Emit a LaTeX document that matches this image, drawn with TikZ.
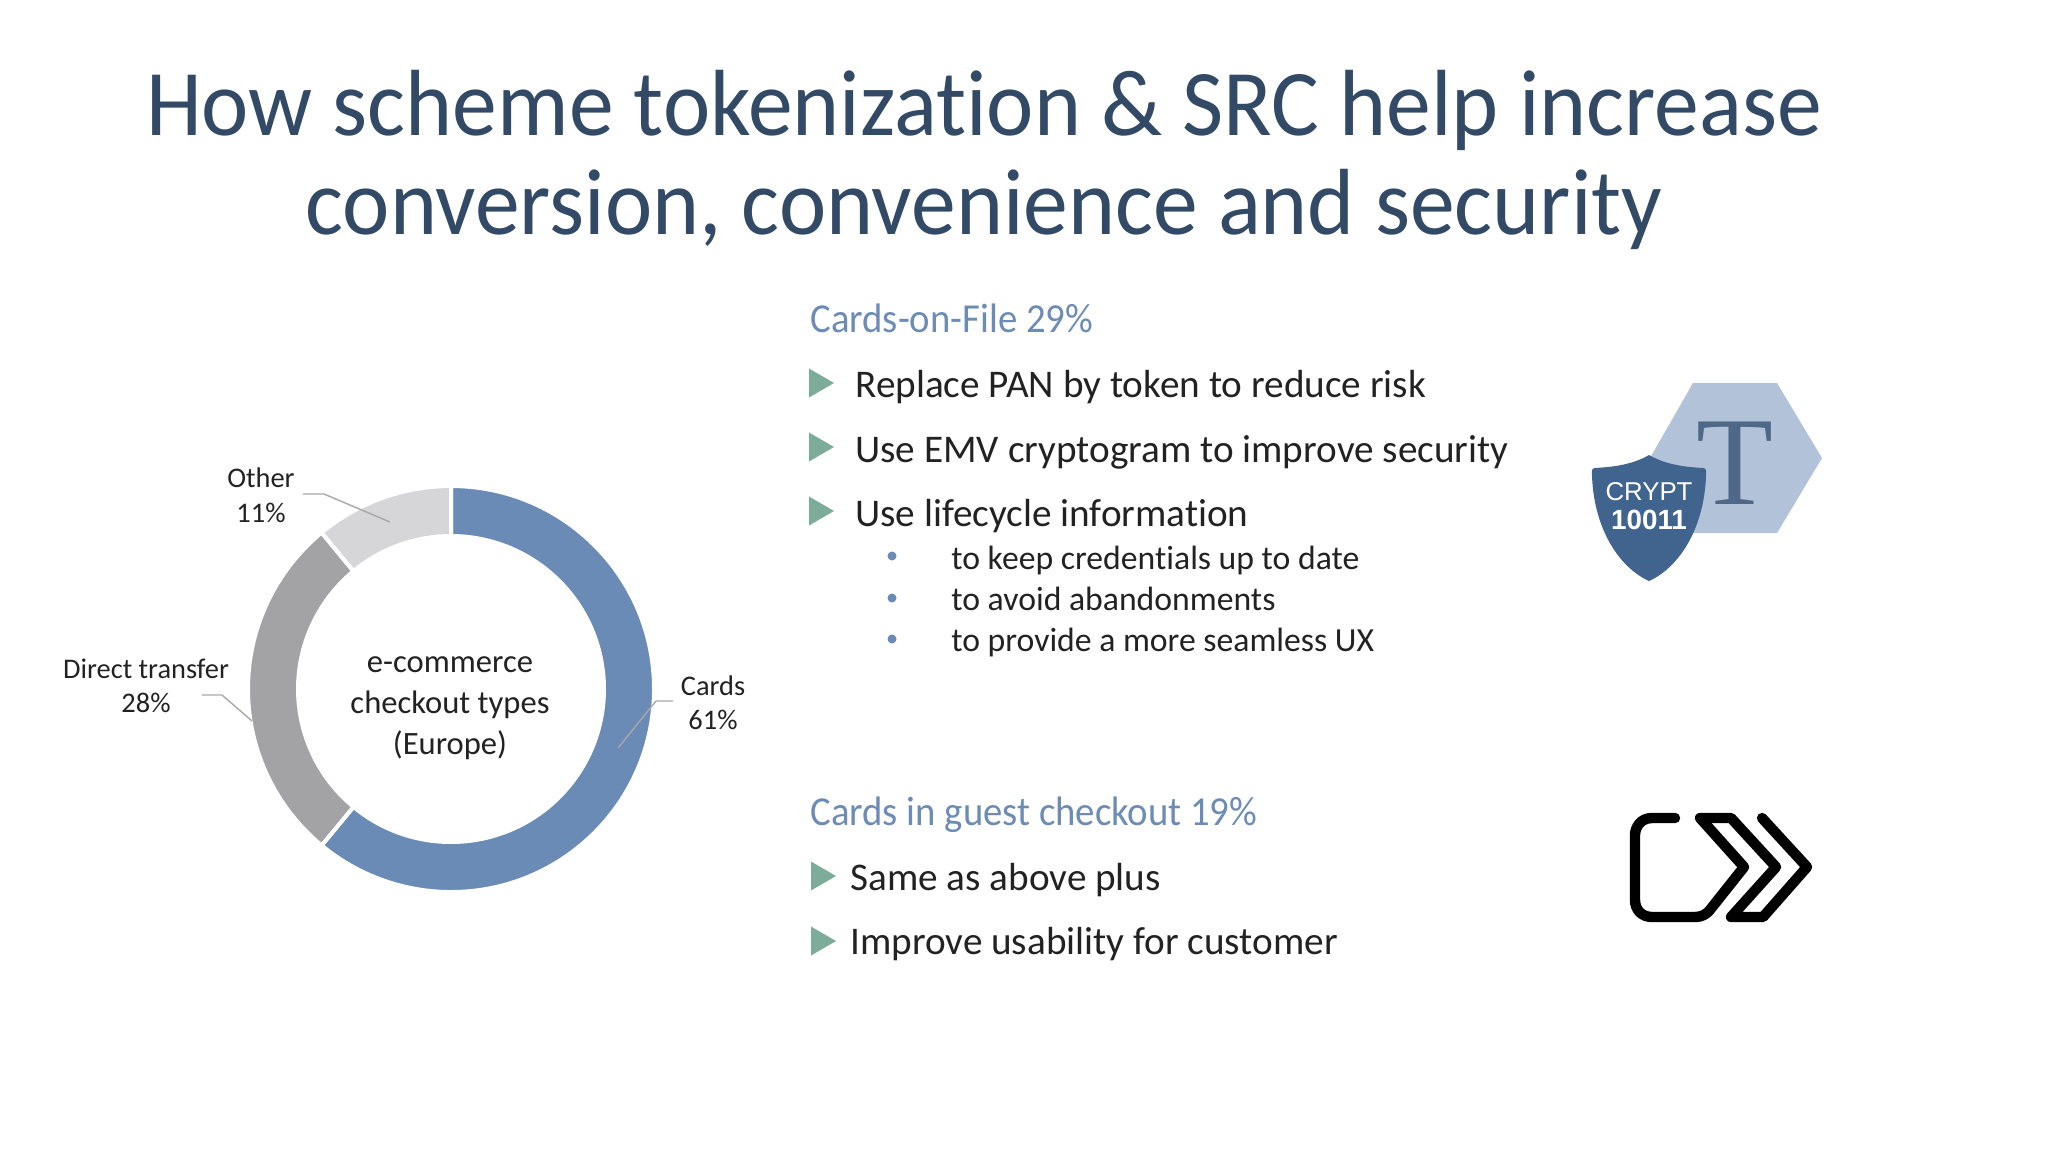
\documentclass[tikz,border=0pt]{standalone}
\usepackage{fontspec}
\setmainfont{Carlito}[Ligatures=NoCommon]
\newfontfamily\titlef{Carlito}[Ligatures=NoCommon,FakeStretch=0.953]
\newfontfamily\headf{Carlito}[Ligatures=NoCommon,FakeStretch=0.94]
\newfontfamily\arialf{Liberation Sans}
\newfontfamily\timesf{Liberation Serif}
\usetikzlibrary{calc}
\definecolor{blueseg}{HTML}{6A8BB6}
\definecolor{grayseg}{HTML}{A3A3A5}
\definecolor{lightseg}{HTML}{D6D6D9}
\definecolor{titlecol}{HTML}{324A66}
\definecolor{headcol}{HTML}{6C8CB5}
\definecolor{tricol}{HTML}{7EAC9B}
\definecolor{textcol}{HTML}{222222}
\definecolor{leader}{HTML}{A8A8A8}
\definecolor{hexcol}{HTML}{B2C3D9}
\definecolor{shieldcol}{HTML}{41648F}
\definecolor{tcol}{HTML}{4F6887}
\tikzset{
  x=0.5pt,y=-0.5pt,
  titletext/.style={anchor=base,inner sep=0,font=\titlef\fontsize{47}{47}\selectfont,text=titlecol},
  headtext/.style={anchor=base west,inner sep=0,font=\headf\fontsize{20.6}{20.6}\selectfont,text=headcol},
  bodytext/.style={anchor=base west,inner sep=0,font=\fontsize{19.6}{19.6}\selectfont,text=textcol},
  subtext/.style={anchor=base west,inner sep=0,font=\fontsize{16.85}{16.85}\selectfont,text=textcol},
  charttext/.style={anchor=base,inner sep=0,font=\fontsize{14.2}{14.2}\selectfont,text=textcol},
  centertext/.style={anchor=base,inner sep=0,font=\fontsize{16.3}{16.3}\selectfont,text=textcol},
  leaderline/.style={draw=leader,line width=0.7pt},
  segsep/.style={draw=white,line width=2pt},
  bulletdot/.style={circle,fill=blueseg,inner sep=0,minimum size=4.5pt},
  iconline/.style={draw=black,line width=5.2pt,line cap=round,line join=round},
}
\newcommand{\tribullet}[2]{\fill[tricol] (#1,#2-14.5) -- (#1+25,#2) -- (#1,#2+14.5) -- cycle;}
\newcommand{\ringseg}[3]{\fill[#1,segsep] (451,689) ++(#2:203) arc[start angle=#2,end angle=#3,radius=203] -- ($(451,689)+(#3:153)$) arc[start angle=#3,end angle=#2,radius=153] -- cycle;}
\begin{document}
\begin{tikzpicture}
\useasboundingbox (0,0) rectangle (2048,1152);
\fill[white] (0,0) rectangle (2048,1152);
% title
\node[titletext] (t1) at (984,135) {How scheme tokenization \& SRC help increase};
\node[titletext] (t2) at (984,234) {conversion, convenience and security};
% donut
\ringseg{blueseg}{-90}{129.6}
\ringseg{grayseg}{129.6}{230.4}
\ringseg{lightseg}{230.4}{270}
\node[centertext] (c1) at (450,672) {e-commerce};
\node[centertext] (c2) at (450,713) {checkout types};
\node[centertext] (c3) at (450,754) {(Europe)};
\node[charttext] (other) at (261,487) {Other};
\node[charttext] (otherp) at (261,522) {11\%};
\node[charttext] (direct) at (146,678) {Direct transfer};
\node[charttext] (directp) at (146,712) {28\%};
\node[charttext] (cards) at (713,695) {Cards};
\node[charttext] (cardsp) at (713,729) {61\%};
\coordinate (oa) at (303,494); \coordinate (ob) at (324,494); \coordinate (oc) at (390,522);
\coordinate (da) at (202,695); \coordinate (db) at (222,695); \coordinate (dc) at (252,721);
\coordinate (ca) at (673,701); \coordinate (cb) at (656,701); \coordinate (cc) at (618,748);
\draw[leaderline] (oa) -- (ob) -- (oc);
\draw[leaderline] (da) -- (db) -- (dc);
\draw[leaderline] (ca) -- (cb) -- (cc);
% text column 1
\node[headtext] (h1) at (810,332) {Cards-on-File 29\%};
\tribullet{809}{383}
\node[bodytext] (b1) at (855,397) {Replace PAN by token to reduce risk};
\tribullet{809}{447}
\node[bodytext] (b2) at (855,462) {Use EMV cryptogram to improve security};
\tribullet{809}{511}
\node[bodytext] (b3) at (855,526) {Use lifecycle information};
\node[bulletdot] (d1) at (892,556) {};
\node[bulletdot] (d2) at (892,598) {};
\node[bulletdot] (d3) at (892,639) {};
\node[subtext] (s1) at (951,569) {to keep credentials up to date};
\node[subtext] (s2) at (951,610) {to avoid abandonments};
\node[subtext] (s3) at (951,651) {to provide a more seamless UX};
% text column 2
\node[headtext] (h2) at (810,825) {Cards in guest checkout 19\%};
\tribullet{811}{876}
\node[bodytext] (g1) at (850,890) {Same as above plus};
\tribullet{811}{941}
\node[bodytext] (g2) at (850,954) {Improve usability for customer};
% token icon
\fill[hexcol] (1693,383) -- (1777,383) -- (1822,458) -- (1777,533) -- (1693,533) -- (1650,458) -- cycle;
\node[anchor=base,inner sep=0,text=tcol,font=\timesf\fontsize{63}{63}\selectfont] (tok) at (1735,504) {T};
\fill[shieldcol] (1649,455) .. controls (1632,465) and (1612,467) .. (1595,468) .. controls (1591,468) and (1592,472) .. (1592,476)
  .. controls (1594,530) and (1620,568) .. (1649,581) .. controls (1678,568) and (1704,530) .. (1706,476)
  .. controls (1706,472) and (1707,468) .. (1703,468) .. controls (1686,467) and (1666,465) .. (1649,455) -- cycle;
\node[anchor=base,inner sep=0,text=white,font=\arialf\fontsize{12.9}{12.9}\selectfont] (crypt) at (1649,500) {CRYPT};
\node[anchor=base,inner sep=0,text=white,font=\arialf\bfseries\fontsize{13.9}{13.9}\selectfont] (num) at (1649,529) {10011};
% checkout icon
\draw[iconline] (1675,818) -- (1652,818) .. controls (1640,818) and (1635,828) .. (1635,835) -- (1635,900)
  .. controls (1635,910) and (1642,917) .. (1652,917) -- (1695,917) .. controls (1702,917) and (1706,914) .. (1709,911)
  -- (1744,867) -- (1700,818) -- (1731,818) -- (1776,867) -- (1731,917) -- (1763,917) -- (1807,867) -- (1762,818);
\end{tikzpicture}
\end{document}
